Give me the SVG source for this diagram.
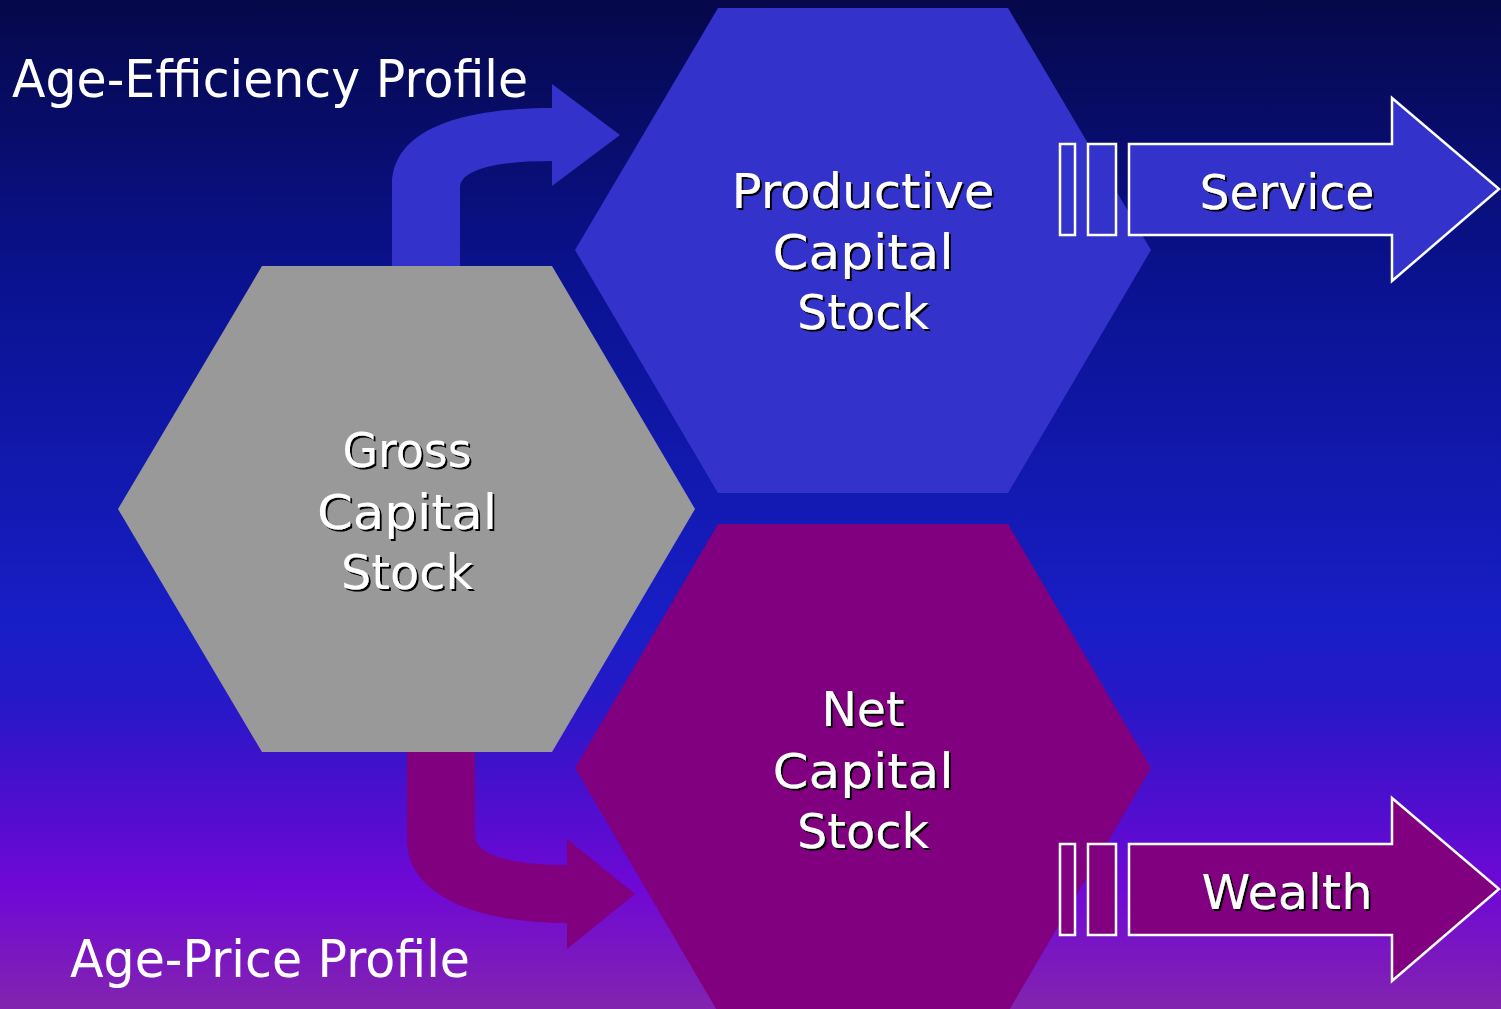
<svg xmlns="http://www.w3.org/2000/svg" width="1501" height="1009" viewBox="0 0 1501 1009">
  <defs>
    <linearGradient id="bg" x1="0" y1="0" x2="0" y2="1">
      <stop offset="0" stop-color="#06084a"/>
      <stop offset="0.28" stop-color="#0a1290"/>
      <stop offset="0.62" stop-color="#181ec6"/>
      <stop offset="0.7" stop-color="#2818c8"/>
      <stop offset="0.77" stop-color="#4410cc"/>
      <stop offset="0.88" stop-color="#7008d6"/>
      <stop offset="1" stop-color="#8224ae"/>
    </linearGradient>
    <filter id="shadow" x="-10%" y="-10%" width="130%" height="130%">
      <feDropShadow dx="2" dy="2" stdDeviation="0.4" flood-color="#000" flood-opacity="1"/>
    </filter>
    <style>
      text { font-family: "DejaVu Sans", "Liberation Sans", sans-serif; fill: #fff; }
      .profile { font-size: 52px; }
      .label { font-size: 48px; text-anchor: middle; filter: url(#shadow); }
      .blue { fill: #3333cc; }
      .grey { fill: #999999; }
      .purple { fill: #800080; }
      .outlined { stroke: #fff; stroke-width: 2.5; }
    </style>
  </defs>

  <rect x="0" y="0" width="1501" height="1009" fill="url(#bg)"/>

  <!-- curved arrows feeding the two derived stocks -->
  <g id="connectors">
    <path id="arrow-efficiency" class="blue" d="M392,270 L392,185 C392,130 460,108 552,108 L552,84 L620,135 L552,186 L552,161 C495,161 460,170 460,188 L460,270 Z"/>
    <path id="arrow-price" class="purple" d="M407,748 L407,840 C407,892 470,923 567,923 L567,949 L635,894 L567,839 L567,865 C508,865 475,854 475,836 L475,748 Z"/>
  </g>

  <g id="productive-capital-stock">
    <polygon class="blue" points="575,250 718,8 1008,8 1151,250 1008,493 718,493"/>
    <text class="label" x="863" y="208" textLength="263" lengthAdjust="spacingAndGlyphs">Productive</text>
    <text class="label" x="863" y="269" textLength="181" lengthAdjust="spacingAndGlyphs">Capital</text>
    <text class="label" x="863" y="329" textLength="132" lengthAdjust="spacingAndGlyphs">Stock</text>
  </g>

  <g id="gross-capital-stock">
    <polygon class="grey" points="118,509 262,266 552,266 695,509 552,752 262,752"/>
    <text class="label" x="407" y="467" textLength="129" lengthAdjust="spacingAndGlyphs">Gross</text>
    <text class="label" x="407" y="529" textLength="180" lengthAdjust="spacingAndGlyphs">Capital</text>
    <text class="label" x="407" y="589" textLength="132" lengthAdjust="spacingAndGlyphs">Stock</text>
  </g>

  <g id="net-capital-stock">
    <polygon class="purple" points="575,768 718,524 1008,524 1151,768 1008,1012 718,1012"/>
    <text class="label" x="863" y="726" textLength="83" lengthAdjust="spacingAndGlyphs">Net</text>
    <text class="label" x="863" y="788" textLength="181" lengthAdjust="spacingAndGlyphs">Capital</text>
    <text class="label" x="863" y="848" textLength="132" lengthAdjust="spacingAndGlyphs">Stock</text>
  </g>

  <g id="service">
    <rect class="blue outlined" x="1060" y="144" width="15" height="91"/>
    <rect class="blue outlined" x="1088" y="144" width="28" height="91"/>
    <polygon class="blue outlined" points="1129,144 1392,144 1392,98 1499,189 1392,281 1392,235 1129,235"/>
    <text class="label" x="1287" y="209" textLength="175" lengthAdjust="spacingAndGlyphs">Service</text>
  </g>

  <g id="wealth">
    <rect class="purple outlined" x="1060" y="844" width="15" height="91"/>
    <rect class="purple outlined" x="1088" y="844" width="28" height="91"/>
    <polygon class="purple outlined" points="1129,844 1392,844 1392,798 1499,889 1392,981 1392,935 1129,935"/>
    <text class="label" x="1287" y="909" textLength="171" lengthAdjust="spacingAndGlyphs">Wealth</text>
  </g>

  <g id="profile-labels">
    <text class="profile" x="12" y="97" textLength="516" lengthAdjust="spacingAndGlyphs">Age-Efficiency Profile</text>
    <text class="profile" x="70" y="977" textLength="400" lengthAdjust="spacingAndGlyphs">Age-Price Profile</text>
  </g>
</svg>
